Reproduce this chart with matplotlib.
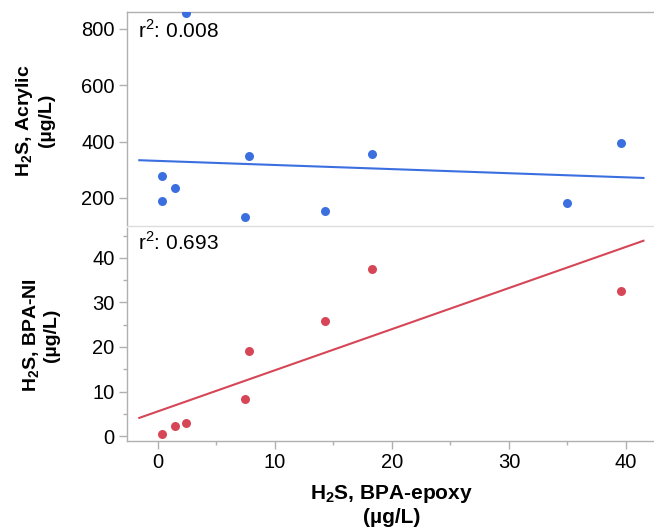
import numpy as np
import matplotlib
matplotlib.use("Agg")
import matplotlib.pyplot as plt
from matplotlib.ticker import MultipleLocator

plt.rcParams['font.family'] = ['Liberation Sans', 'DejaVu Sans']
plt.rcParams['mathtext.fontset'] = 'custom'
plt.rcParams['mathtext.rm'] = 'Liberation Sans'
plt.rcParams['mathtext.bf'] = 'Liberation Sans:bold'

# H2S from BPA-epoxy (x) against acrylic and BPA-NI coatings
epoxy_acrylic = [0.3, 0.3, 1.45, 2.4, 7.4, 7.8, 14.3, 18.3, 35.0, 39.6]
acrylic = [278, 190, 235, 855, 133, 349, 154, 356, 182, 395]

epoxy_bpani = [0.3, 1.45, 2.4, 7.4, 7.8, 14.3, 18.3, 39.6]
bpani = [0.5, 2.2, 2.9, 8.3, 19.1, 25.8, 37.5, 32.6]

r2_acrylic = "0.008"
r2_bpani = "0.693"

blue = "#3b6fe0"
red = "#d64656"
frame = "#b0b0b0"

fig = plt.figure(figsize=(6.54, 5.29), dpi=100)
ax1 = fig.add_axes([0.1942, 0.5728, 0.8058, 0.4045])
ax2 = fig.add_axes([0.1942, 0.1664, 0.8058, 0.4026])

xfit = np.array([-1.6, 41.5])


def panel(ax, x, y, color):
    ax.scatter(x, y, s=42, color=color, zorder=3, linewidths=0)
    k, b = np.polyfit(x, y, 1)
    ax.plot(xfit, k * xfit + b, color=color, lw=1.5, zorder=2)
    ax.set_xlim(-2.65, 42.4)
    for s in ['left', 'top', 'bottom']:
        ax.spines[s].set_color(frame)
        ax.spines[s].set_linewidth(1.0)
    ax.spines['right'].set_visible(False)
    ax.tick_params(colors=frame, labelcolor='black', labelsize=14.5,
                   length=6, width=1, pad=3)
    ax.tick_params(which='minor', colors=frame, length=3, width=1)


panel(ax1, epoxy_acrylic, acrylic, blue)
ax1.set_ylim(100, 860)
ax1.yaxis.set_major_locator(MultipleLocator(200))
ax1.set_xticks([])
ax1.spines['bottom'].set_color('#dddddd')
ax1.text(0.02, 0.965, r"r$^2$: " + r2_acrylic, transform=ax1.transAxes,
         fontsize=15, va='top', ha='left')

panel(ax2, epoxy_bpani, bpani, red)
ax2.set_ylim(-1.1, 46.7)
ax2.yaxis.set_major_locator(MultipleLocator(10))
ax2.yaxis.set_minor_locator(MultipleLocator(5))
ax2.xaxis.set_major_locator(MultipleLocator(10))
ax2.xaxis.set_minor_locator(MultipleLocator(5))
ax2.spines['top'].set_visible(False)
ax2.text(0.02, 0.985, r"r$^2$: " + r2_bpani, transform=ax2.transAxes,
         fontsize=15, va='top', ha='left')

lab = dict(fontsize=14, fontweight='bold', ha='center', va='center',
           linespacing=1.2)
fig.text(0.053, 0.772, "$\\mathbf{H_2S}$, Acrylic\n(µg/L)", rotation=90, **lab)
fig.text(0.062, 0.366, "$\\mathbf{H_2S}$, BPA-NI\n(µg/L)", rotation=90, **lab)
lab['fontsize'] = 15
fig.text(0.599, 0.046, "$\\mathbf{H_2S}$, BPA-epoxy\n(µg/L)", **lab)

fig.savefig("out.png", dpi=100)
